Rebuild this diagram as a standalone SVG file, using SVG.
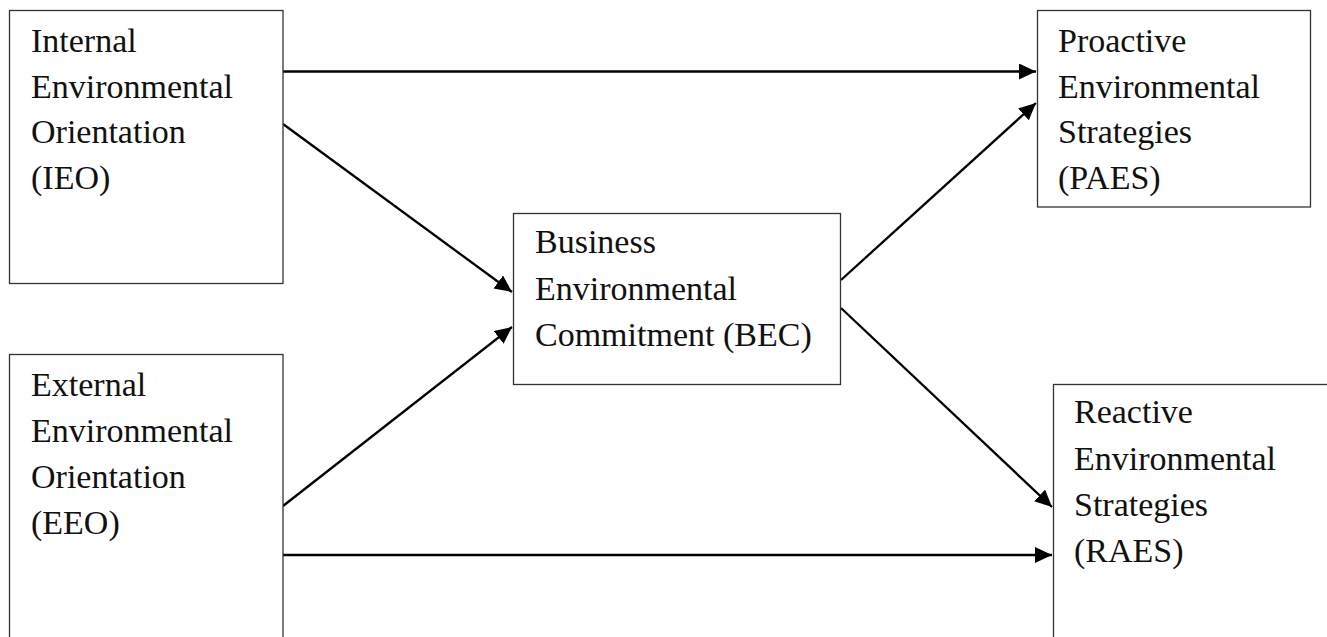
<svg xmlns="http://www.w3.org/2000/svg" width="1327" height="637" viewBox="0 0 1327 637">
<style>
.box{fill:#fff;stroke:#333;stroke-width:1.3}
.t{font-family:"Liberation Serif","Times New Roman",serif;font-size:34px;fill:#111}
.c{stroke:#000;stroke-width:2.3;fill:none;marker-end:url(#ah)}
</style>
<defs>
<marker id="ah" markerUnits="userSpaceOnUse" markerWidth="18" markerHeight="17" refX="17" refY="8" orient="auto" viewBox="0 0 18 17">
<path d="M0,0 L17,8 L0,16 z" fill="#000"/>
</marker>
</defs>
<rect width="1327" height="637" fill="#fff"/>
<g id="connectors">
<line class="c" x1="283" y1="71.5" x2="1036" y2="71.5"/>
<line class="c" x1="283" y1="124" x2="512" y2="292"/>
<line class="c" x1="283" y1="506" x2="512" y2="327"/>
<line class="c" x1="283" y1="555" x2="1052" y2="555"/>
<line class="c" x1="841" y1="280" x2="1036" y2="103"/>
<line class="c" x1="841" y1="308" x2="1052" y2="507"/>
</g>
<g id="IEO">
<rect class="box" x="9.5" y="10.5" width="273.5" height="273"/>
<text class="t" x="31" y="52">Internal</text>
<text class="t" x="31" y="97.5">Environmental</text>
<text class="t" x="31" y="143">Orientation</text>
<text class="t" x="31" y="189">(IEO)</text>
</g>
<g id="EEO">
<rect class="box" x="9.5" y="354.5" width="273.5" height="300"/>
<text class="t" x="31" y="396">External</text>
<text class="t" x="31" y="442">Environmental</text>
<text class="t" x="31" y="488">Orientation</text>
<text class="t" x="31" y="534">(EEO)</text>
</g>
<g id="BEC">
<rect class="box" x="513.5" y="213.5" width="327" height="171"/>
<text class="t" x="535" y="253">Business</text>
<text class="t" x="535" y="299.5">Environmental</text>
<text class="t" x="535" y="346">Commitment (BEC)</text>
</g>
<g id="PAES">
<rect class="box" x="1037.5" y="10.5" width="273" height="196.5"/>
<text class="t" x="1058" y="52">Proactive</text>
<text class="t" x="1058" y="97.5">Environmental</text>
<text class="t" x="1058" y="143">Strategies</text>
<text class="t" x="1058" y="188.5">(PAES)</text>
</g>
<g id="RAES">
<rect class="box" x="1053.5" y="384.5" width="290" height="300"/>
<text class="t" x="1074" y="423">Reactive</text>
<text class="t" x="1074" y="469.5">Environmental</text>
<text class="t" x="1074" y="516">Strategies</text>
<text class="t" x="1074" y="562">(RAES)</text>
</g>
</svg>
